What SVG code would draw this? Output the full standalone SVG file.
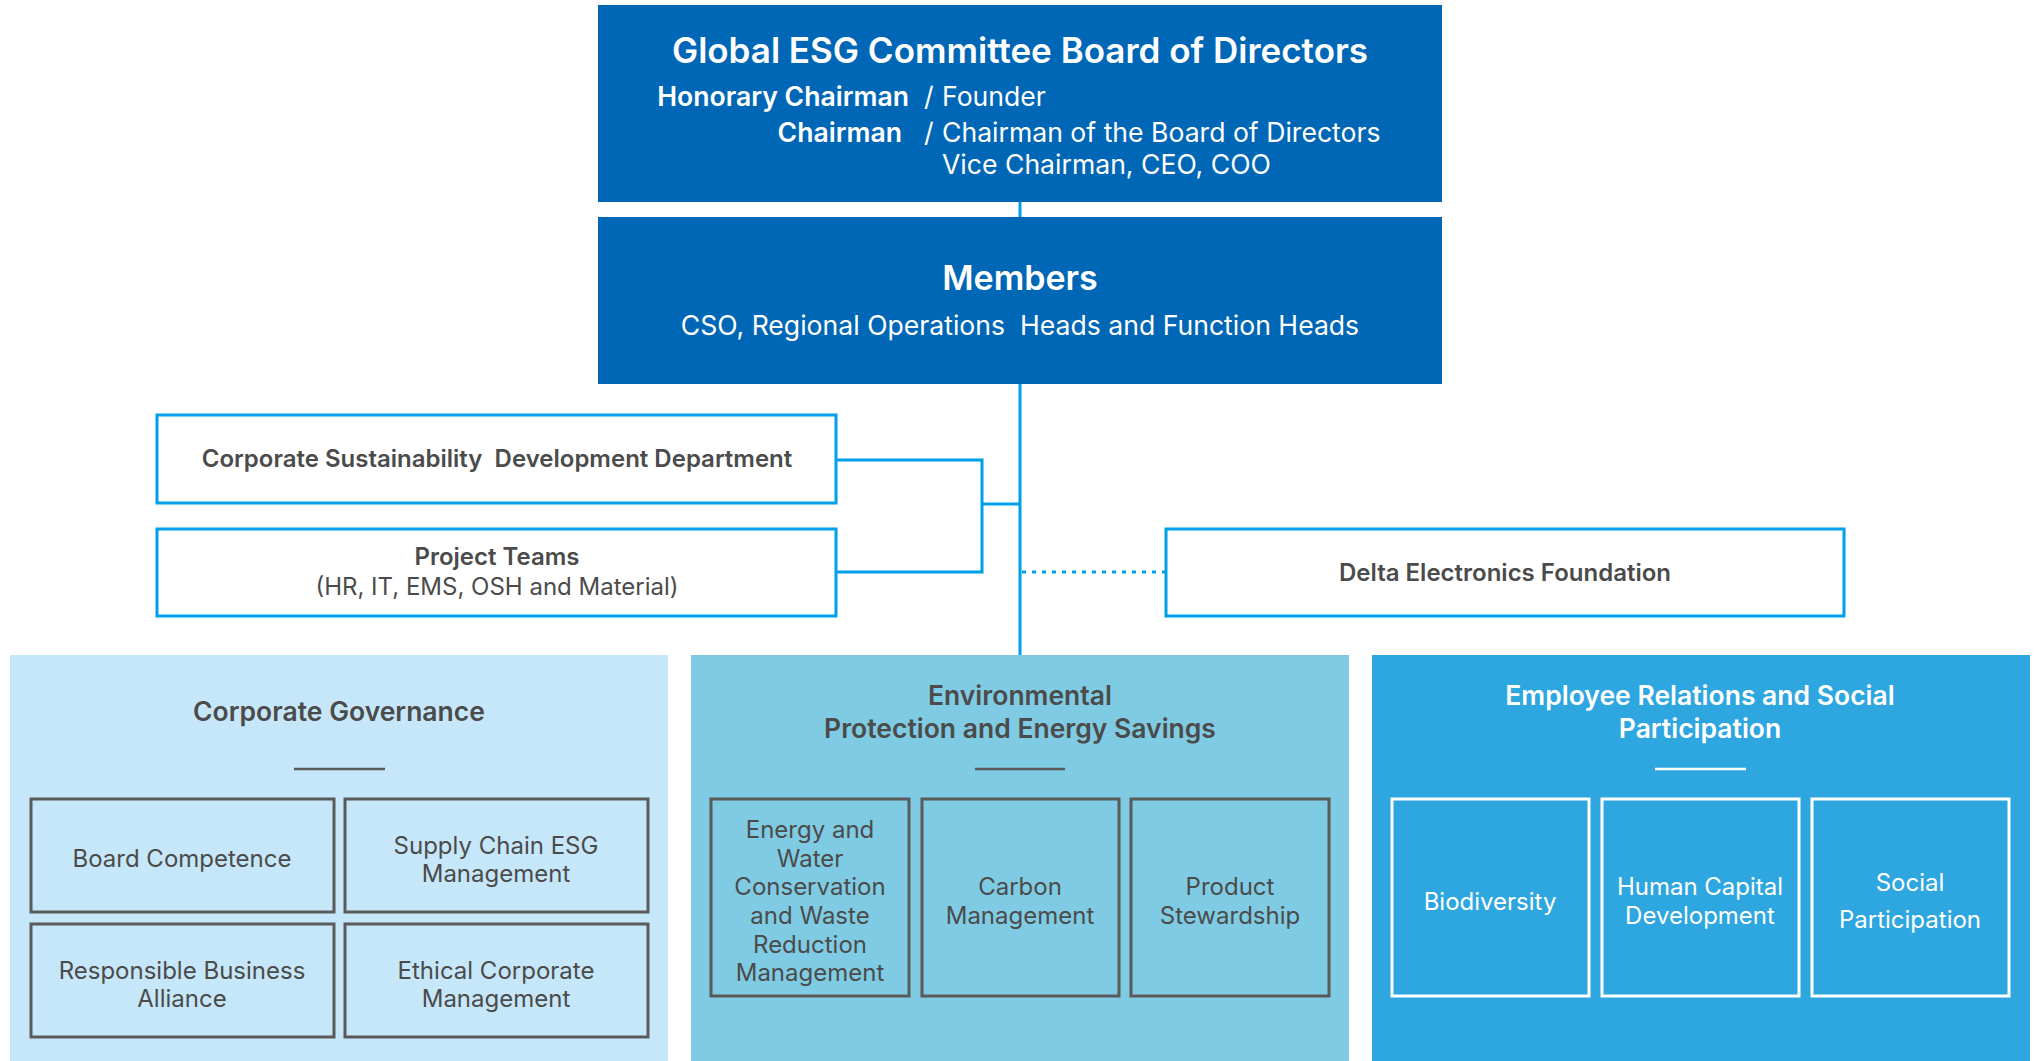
<svg xmlns="http://www.w3.org/2000/svg" width="2035" height="1061" viewBox="0 0 2035 1061">
<style>
  text { font-family: Inter, "Noto Sans", "Liberation Sans", sans-serif; }
  .dark { fill: #0067b6; }
  .wt { fill: #ffffff; }
  .gt { fill: #4b4b4b; }
  .b { font-weight: 600; }
  .pre { white-space: pre; }
  .conn { fill: none; stroke: #00a0e9; stroke-width: 3; }
  .dot { fill: none; stroke: #00a0e9; stroke-width: 3; stroke-dasharray: 4 6; }
  .ob { fill: #ffffff; stroke: #00a0e9; stroke-width: 3; }
  .gb { fill: none; stroke: #5a5a5a; stroke-width: 3; }
  .wb { fill: none; stroke: #ffffff; stroke-width: 3; }
  .gl { stroke: #5a5a5a; stroke-width: 2.5; }
  .wl { stroke: #ffffff; stroke-width: 2.5; }
  .t35 { font-size: 35px; }
  .t34 { font-size: 34px; }
  .t26 { font-size: 26.6px; }
  .tp { font-size: 26.5px; }
  .t24 { font-size: 24px; }
</style>
<rect width="2035" height="1061" fill="#ffffff"/>
<g id="connectors">
  <path class="conn" d="M1020 200 V219"/>
  <path class="conn" d="M1020 382 V657"/>
  <path class="conn" d="M836 460 H982 V572 H836"/>
  <path class="conn" d="M982 504 H1020"/>
  <path class="dot" d="M1022 572 H1165"/>
</g>
<g id="board">
  <rect class="dark" x="598" y="5" width="844" height="197"/>
  <text class="wt b t35" x="1020" y="63" text-anchor="middle">Global ESG Committee Board of Directors</text>
  <text class="wt b t26" x="909" y="106" text-anchor="end">Honorary Chairman</text>
  <text class="wt t26" x="924" y="106">/</text>
  <text class="wt t26" x="942" y="106">Founder</text>
  <text class="wt b t26" x="902" y="142" text-anchor="end">Chairman</text>
  <text class="wt t26" x="924" y="142">/</text>
  <text class="wt t26" x="942" y="142">Chairman of the Board of Directors</text>
  <text class="wt t26" x="942" y="174">Vice Chairman, CEO, COO</text>
</g>
<g id="members">
  <rect class="dark" x="598" y="217" width="844" height="167"/>
  <text class="wt b t34" x="1020" y="290" text-anchor="middle">Members</text>
  <text class="wt t26 pre" x="1020" y="335" text-anchor="middle">CSO, Regional Operations  Heads and Function Heads</text>
</g>
<g id="csdd">
  <rect class="ob" x="157" y="415" width="679" height="88"/>
  <text class="gt b t24 pre" x="497" y="467" text-anchor="middle">Corporate Sustainability  Development Department</text>
</g>
<g id="project-teams">
  <rect class="ob" x="157" y="529" width="679" height="87"/>
  <text class="gt b t24" x="497" y="565" text-anchor="middle">Project Teams</text>
  <text class="gt t24" x="497" y="595" text-anchor="middle">(HR, IT, EMS, OSH and Material)</text>
</g>
<g id="foundation">
  <rect class="ob" x="1166" y="529" width="678" height="87"/>
  <text class="gt b t24" x="1505" y="581" text-anchor="middle">Delta Electronics Foundation</text>
</g>
<g id="corporate-governance">
  <rect x="10" y="655" width="658" height="406" fill="#c6e7f9"/>
  <text class="gt b tp" x="339" y="721" text-anchor="middle">Corporate Governance</text>
  <line class="gl" x1="294" y1="769" x2="385" y2="769"/>
  <rect class="gb" x="31" y="799" width="303" height="113"/>
  <text class="gt t24" x="182" y="867" text-anchor="middle">Board Competence</text>
  <rect class="gb" x="345" y="799" width="303" height="113"/>
  <text class="gt t24" x="496" y="854" text-anchor="middle">Supply Chain ESG</text>
  <text class="gt t24" x="496" y="882" text-anchor="middle">Management</text>
  <rect class="gb" x="31" y="924" width="303" height="113"/>
  <text class="gt t24" x="182" y="979" text-anchor="middle">Responsible Business</text>
  <text class="gt t24" x="182" y="1007" text-anchor="middle">Alliance</text>
  <rect class="gb" x="345" y="924" width="303" height="113"/>
  <text class="gt t24" x="496" y="979" text-anchor="middle">Ethical Corporate</text>
  <text class="gt t24" x="496" y="1007" text-anchor="middle">Management</text>
</g>
<g id="environmental">
  <rect x="691" y="655" width="658" height="406" fill="#7fcbe3"/>
  <text class="gt b tp" x="1020" y="705" text-anchor="middle">Environmental</text>
  <text class="gt b tp" x="1020" y="738" text-anchor="middle">Protection and Energy Savings</text>
  <line class="gl" x1="975" y1="769" x2="1065" y2="769"/>
  <rect class="gb" x="711" y="799" width="198" height="197"/>
  <text class="gt t24" x="810" y="838" text-anchor="middle">Energy and</text>
  <text class="gt t24" x="810" y="867" text-anchor="middle">Water</text>
  <text class="gt t24" x="810" y="895" text-anchor="middle">Conservation</text>
  <text class="gt t24" x="810" y="924" text-anchor="middle">and Waste</text>
  <text class="gt t24" x="810" y="953" text-anchor="middle">Reduction</text>
  <text class="gt t24" x="810" y="981" text-anchor="middle">Management</text>
  <rect class="gb" x="922" y="799" width="197" height="197"/>
  <text class="gt t24" x="1020" y="895" text-anchor="middle">Carbon</text>
  <text class="gt t24" x="1020" y="924" text-anchor="middle">Management</text>
  <rect class="gb" x="1131" y="799" width="198" height="197"/>
  <text class="gt t24" x="1230" y="895" text-anchor="middle">Product</text>
  <text class="gt t24" x="1230" y="924" text-anchor="middle">Stewardship</text>
</g>
<g id="employee">
  <rect x="1372" y="655" width="658" height="406" fill="#2ea6df"/>
  <text class="wt b tp" x="1700" y="705" text-anchor="middle">Employee Relations and Social</text>
  <text class="wt b tp" x="1700" y="738" text-anchor="middle">Participation</text>
  <line class="wl" x1="1655" y1="769" x2="1746" y2="769"/>
  <rect class="wb" x="1392" y="799" width="197" height="197"/>
  <text class="wt t24" x="1490" y="910" text-anchor="middle">Biodiversity</text>
  <rect class="wb" x="1602" y="799" width="197" height="197"/>
  <text class="wt t24" x="1700" y="895" text-anchor="middle">Human Capital</text>
  <text class="wt t24" x="1700" y="924" text-anchor="middle">Development</text>
  <rect class="wb" x="1812" y="799" width="197" height="197"/>
  <text class="wt t24" x="1910" y="891" text-anchor="middle">Social</text>
  <text class="wt t24" x="1910" y="928" text-anchor="middle">Participation</text>
</g>
</svg>
